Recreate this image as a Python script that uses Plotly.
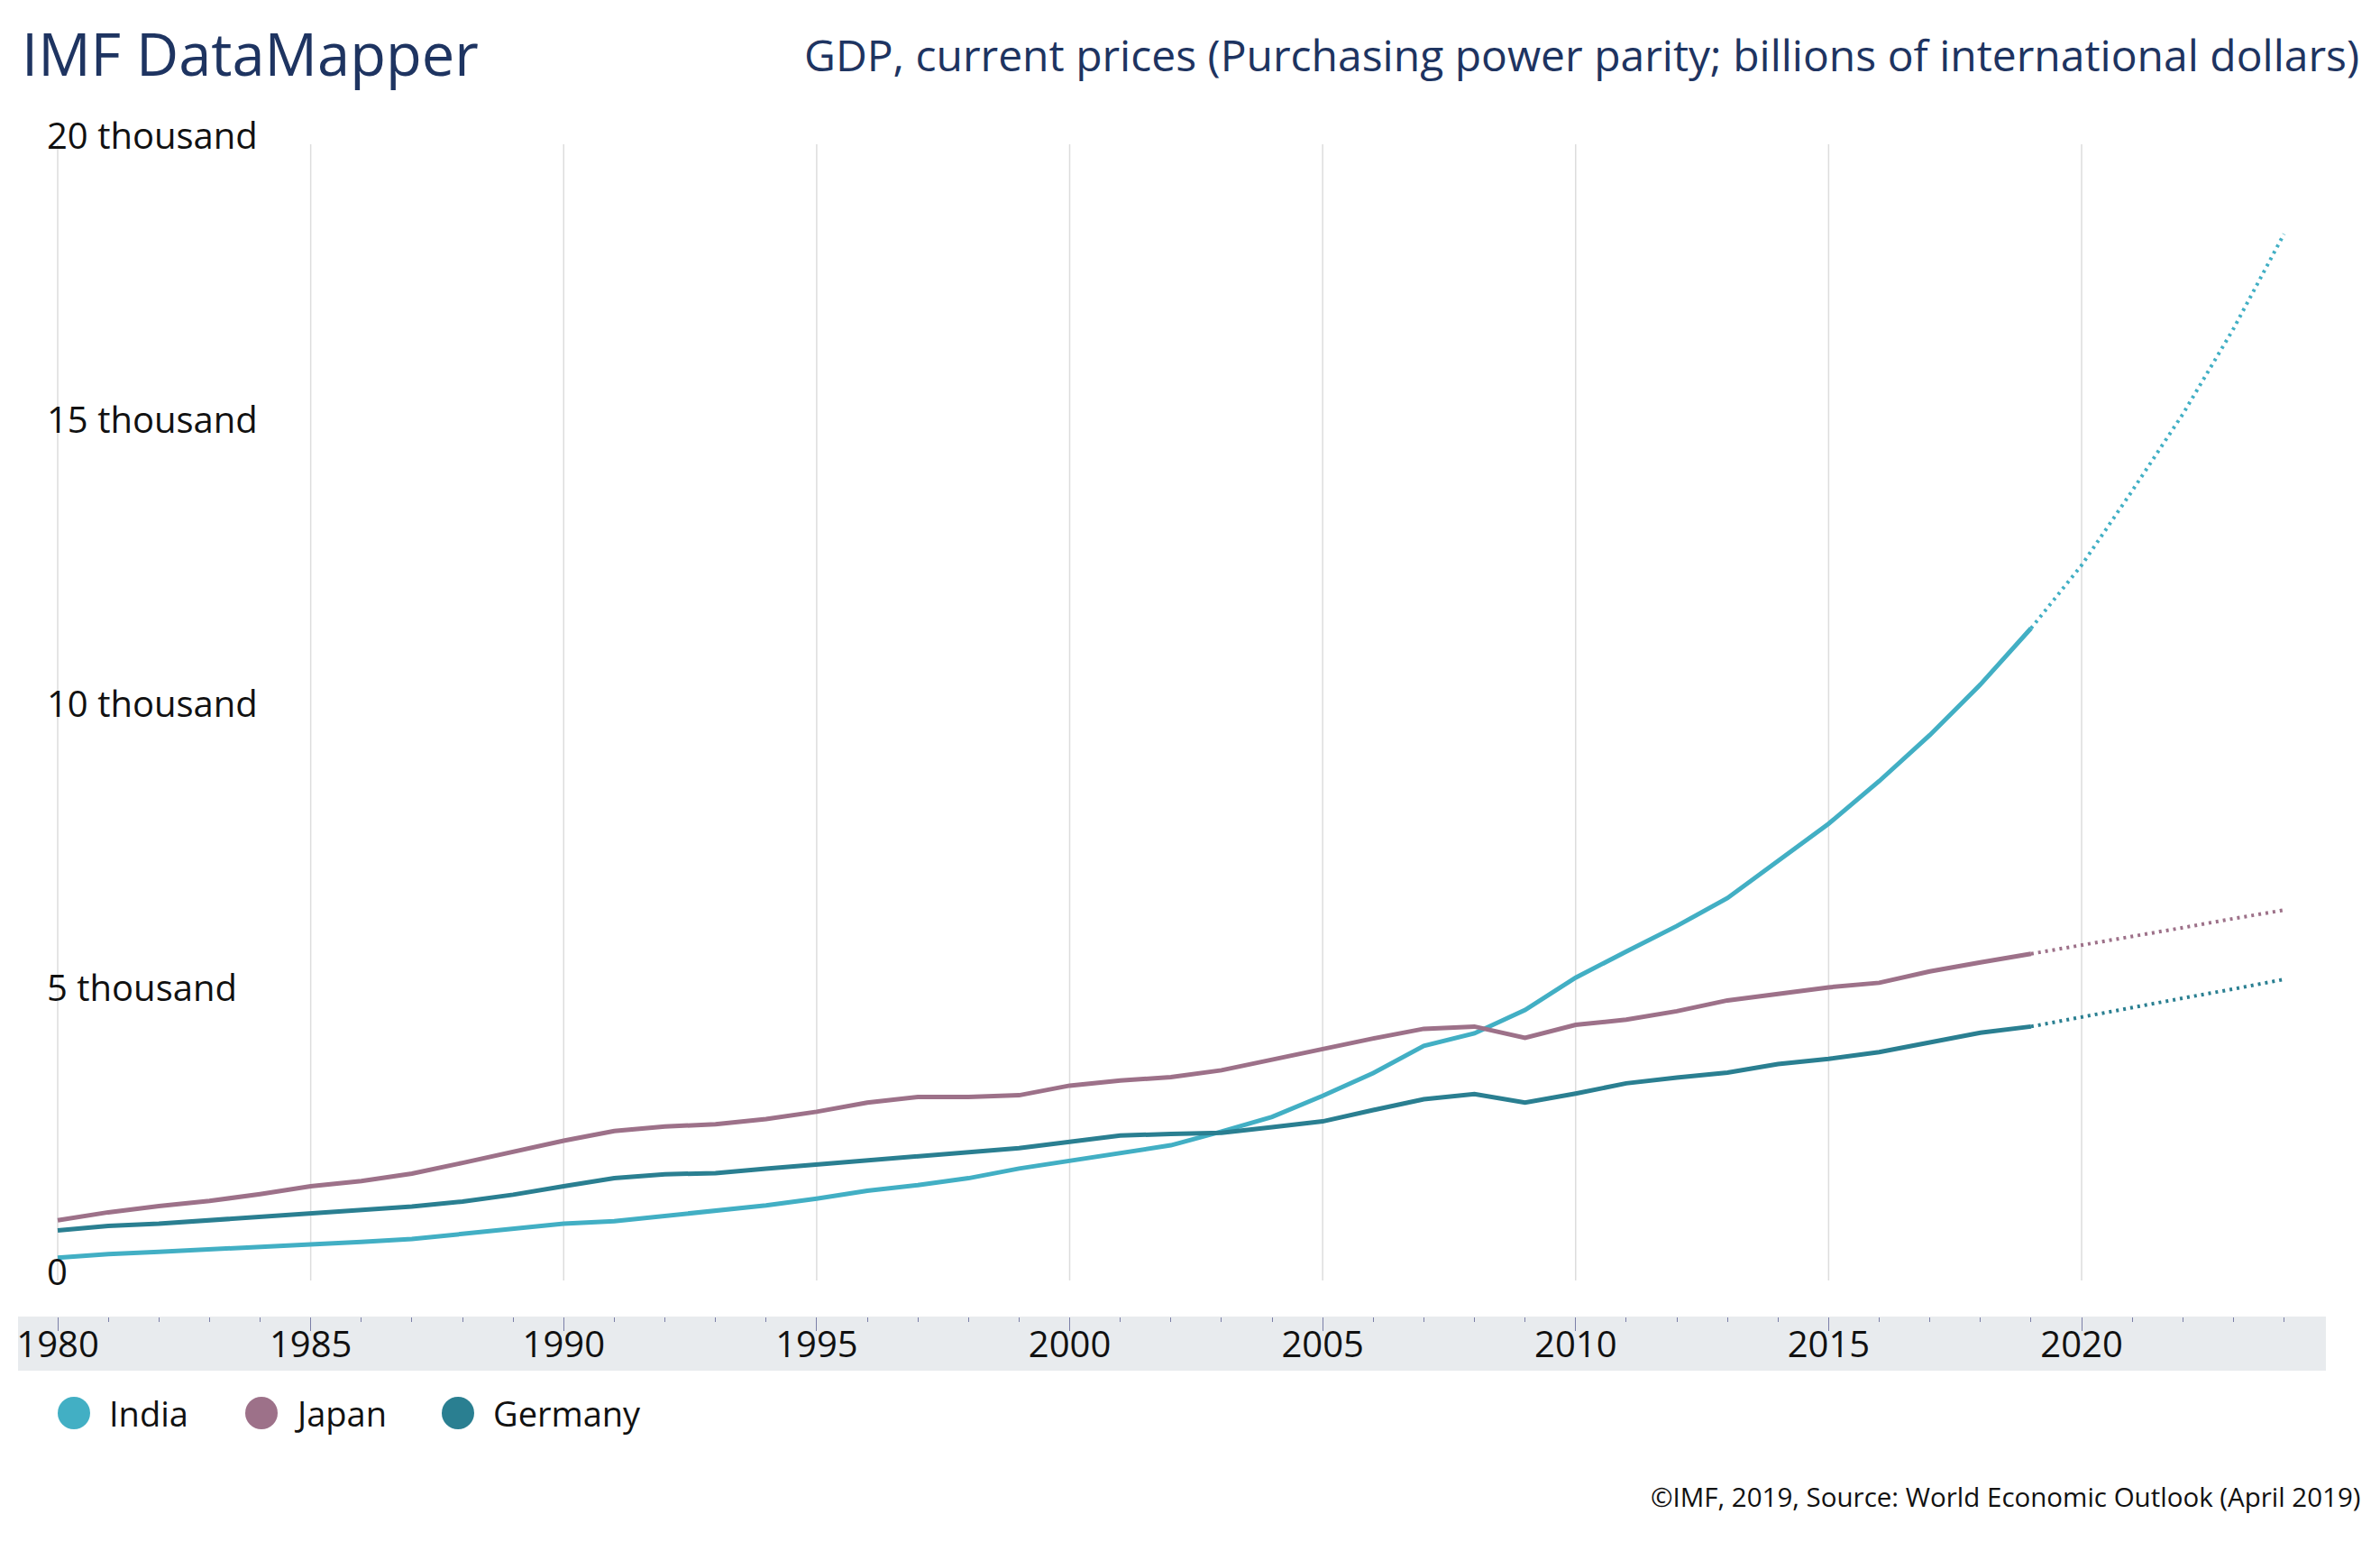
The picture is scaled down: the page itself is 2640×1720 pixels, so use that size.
import plotly.graph_objects as go

# ---------------- data (billions of international dollars) ----------------
years = list(range(1980, 2025))
last_actual_year = 2019

india = [400, 465, 505, 555, 590, 635, 680, 730, 820, 910,
         1000, 1045, 1130, 1220, 1320, 1440, 1580, 1680, 1800, 1970,
         2100, 2250, 2380, 2620, 2880, 3250, 3650, 4130, 4350, 4760,
         5330, 5790, 6240, 6730, 7390, 8040, 8790, 9600, 10490, 11480,
         12590, 13900, 15250, 16750, 18420]
japan = [1060, 1200, 1310, 1400, 1520, 1660, 1750, 1880, 2070, 2270,
         2460, 2630, 2710, 2750, 2840, 2970, 3130, 3230, 3230, 3260,
         3430, 3520, 3580, 3700, 3890, 4070, 4260, 4430, 4470, 4270,
         4500, 4590, 4740, 4930, 5040, 5160, 5240, 5440, 5600, 5750,
         5900, 6060, 6210, 6370, 6520]
germany = [880, 960, 1000, 1060, 1120, 1190, 1240, 1300, 1390, 1510,
           1660, 1800, 1870, 1890, 1970, 2040, 2110, 2190, 2250, 2330,
           2440, 2550, 2580, 2600, 2700, 2800, 3000, 3190, 3280, 3130,
           3290, 3470, 3570, 3660, 3810, 3900, 4020, 4200, 4360, 4470,
           4640, 4800, 4970, 5130, 5300]

country_names = ["India", "Japan", "Germany"]
country_colors = ["#42afc4", "#9d7189", "#2a7f91"]

y_tickvals = [0, 5000, 10000, 15000, 20000]
y_ticktext = ["0", "5 thousand", "10 thousand", "15 thousand", "20 thousand"]
x_grid_years = list(range(1980, 2021, 5))

title_text = "IMF DataMapper"
subtitle_text = "GDP, current prices (Purchasing power parity; billions of international dollars)"
footer_text = "©IMF, 2019, Source: World Economic Outlook (April 2019)"

# ---------------- layout geometry (page pixels; body has 8px margin) ----------------
OFF = 8
W, H = 2640 - 2 * OFF, 1720 - 2 * OFF
PL, PR, PT, PB = 20, 2580, 160, 1460      # plot area in page pixels
px_per_year = (2309 - 64) / 40.0
x_lo = 1980 - (64 - PL) / px_per_year
x_hi = 1980 + (PR - 64) / px_per_year
px_per_unit = (1420 - 160) / 20000.0
y_lo = -(PB - 1420) / px_per_unit
y_hi = 20000


def px_x(p):
    return (p - PL) / (PR - PL)


def px_y(p):
    return (PB - p) / (PB - PT)


NAVY = "#1e3461"
FONT = "Open Sans"

fig = go.Figure()

series = [india, japan, germany]
for name, vals, col in zip(country_names, series, country_colors):
    xs_a = [y for y in years if y <= last_actual_year]
    ys_a = [v for y, v in zip(years, vals) if y <= last_actual_year]
    xs_p = [y for y in years if y >= last_actual_year]
    ys_p = [v for y, v in zip(years, vals) if y >= last_actual_year]
    fig.add_trace(go.Scatter(x=xs_a, y=ys_a, mode="lines", name=name,
                             line=dict(color=col, width=5), showlegend=False))
    fig.add_trace(go.Scatter(x=xs_p, y=ys_p, mode="lines", name=name + " (projection)",
                             line=dict(color=col, width=4, dash="3px,5px"),
                             showlegend=False))

shapes = []
# x-axis band
shapes.append(dict(type="rect", xref="paper", yref="paper", x0=0, x1=1,
                   y0=px_y(1520), y1=px_y(1460), fillcolor="#e8ebee",
                   line=dict(width=0), layer="below"))
# vertical grid lines
for g in x_grid_years:
    shapes.append(dict(type="line", xref="x", yref="y", x0=g, x1=g, y0=0, y1=20000,
                       line=dict(color="#dddddd", width=1.5), layer="below"))

annotations = []
# legend
legend_cx = [82, 290, 508]
legend_tx = [119, 324, 545]
legend_cy = 1567
for name, col, cx, tx in zip(country_names, country_colors, legend_cx, legend_tx):
    shapes.append(dict(type="circle", xref="paper", yref="paper",
                       xsizemode="pixel", ysizemode="pixel",
                       xanchor=px_x(cx), yanchor=px_y(legend_cy),
                       x0=-18, x1=18, y0=-18, y1=18,
                       fillcolor=col, line=dict(width=0)))
    annotations.append(dict(text=name, xref="paper", yref="paper",
                            x=px_x(tx), y=px_y(legend_cy), xanchor="left", yanchor="middle",
                            showarrow=False, font=dict(family=FONT, size=38, color="#111111")))

annotations.append(dict(text=title_text, xref="paper", yref="paper",
                        x=px_x(22), y=px_y(59), xanchor="left", yanchor="middle",
                        showarrow=False, font=dict(family=FONT, size=65, color=NAVY)))
annotations.append(dict(text=subtitle_text, xref="paper", yref="paper",
                        x=px_x(2619), y=px_y(60), xanchor="right", yanchor="middle",
                        showarrow=False, font=dict(family=FONT, size=48, color=NAVY)))
annotations.append(dict(text=footer_text, xref="paper", yref="paper",
                        x=px_x(2620), y=px_y(1660), xanchor="right", yanchor="middle",
                        showarrow=False, font=dict(family=FONT, size=29.5, color="#111111")))

fig.update_layout(
    width=W, height=H, autosize=False,
    margin=dict(l=PL - OFF, r=(2640 - OFF) - PR, t=PT - OFF, b=(1720 - OFF) - PB,
                pad=0, autoexpand=False),
    paper_bgcolor="white", plot_bgcolor="white",
    showlegend=False,
    font=dict(family=FONT, color="#111111"),
    shapes=shapes, annotations=annotations,
    xaxis=dict(range=[x_lo, x_hi], tick0=1980, dtick=5, ticks="outside",
               ticklen=15, tickwidth=1, tickcolor="#7b7fa8",
               ticklabelstandoff=-19,
               showgrid=False, zeroline=False, showline=False,
               tickfont=dict(family=FONT, size=40, color="#111111"),
               minor=dict(tick0=1980, dtick=1, ticks="outside", ticklen=5,
                          tickwidth=1, tickcolor="#7b7fa8", showgrid=False),
               fixedrange=True),
    yaxis=dict(range=[y_lo, y_hi], tickvals=y_tickvals, ticktext=y_ticktext,
               ticklabelposition="inside top", ticklabeloverflow="allow",
               ticklabelstandoff=29, ticklabelshift=19,
               ticks="", showgrid=False, zeroline=False, showline=False,
               tickfont=dict(family=FONT, size=40, color="#111111"),
               fixedrange=True),
)

fig.write_html("out.html")
